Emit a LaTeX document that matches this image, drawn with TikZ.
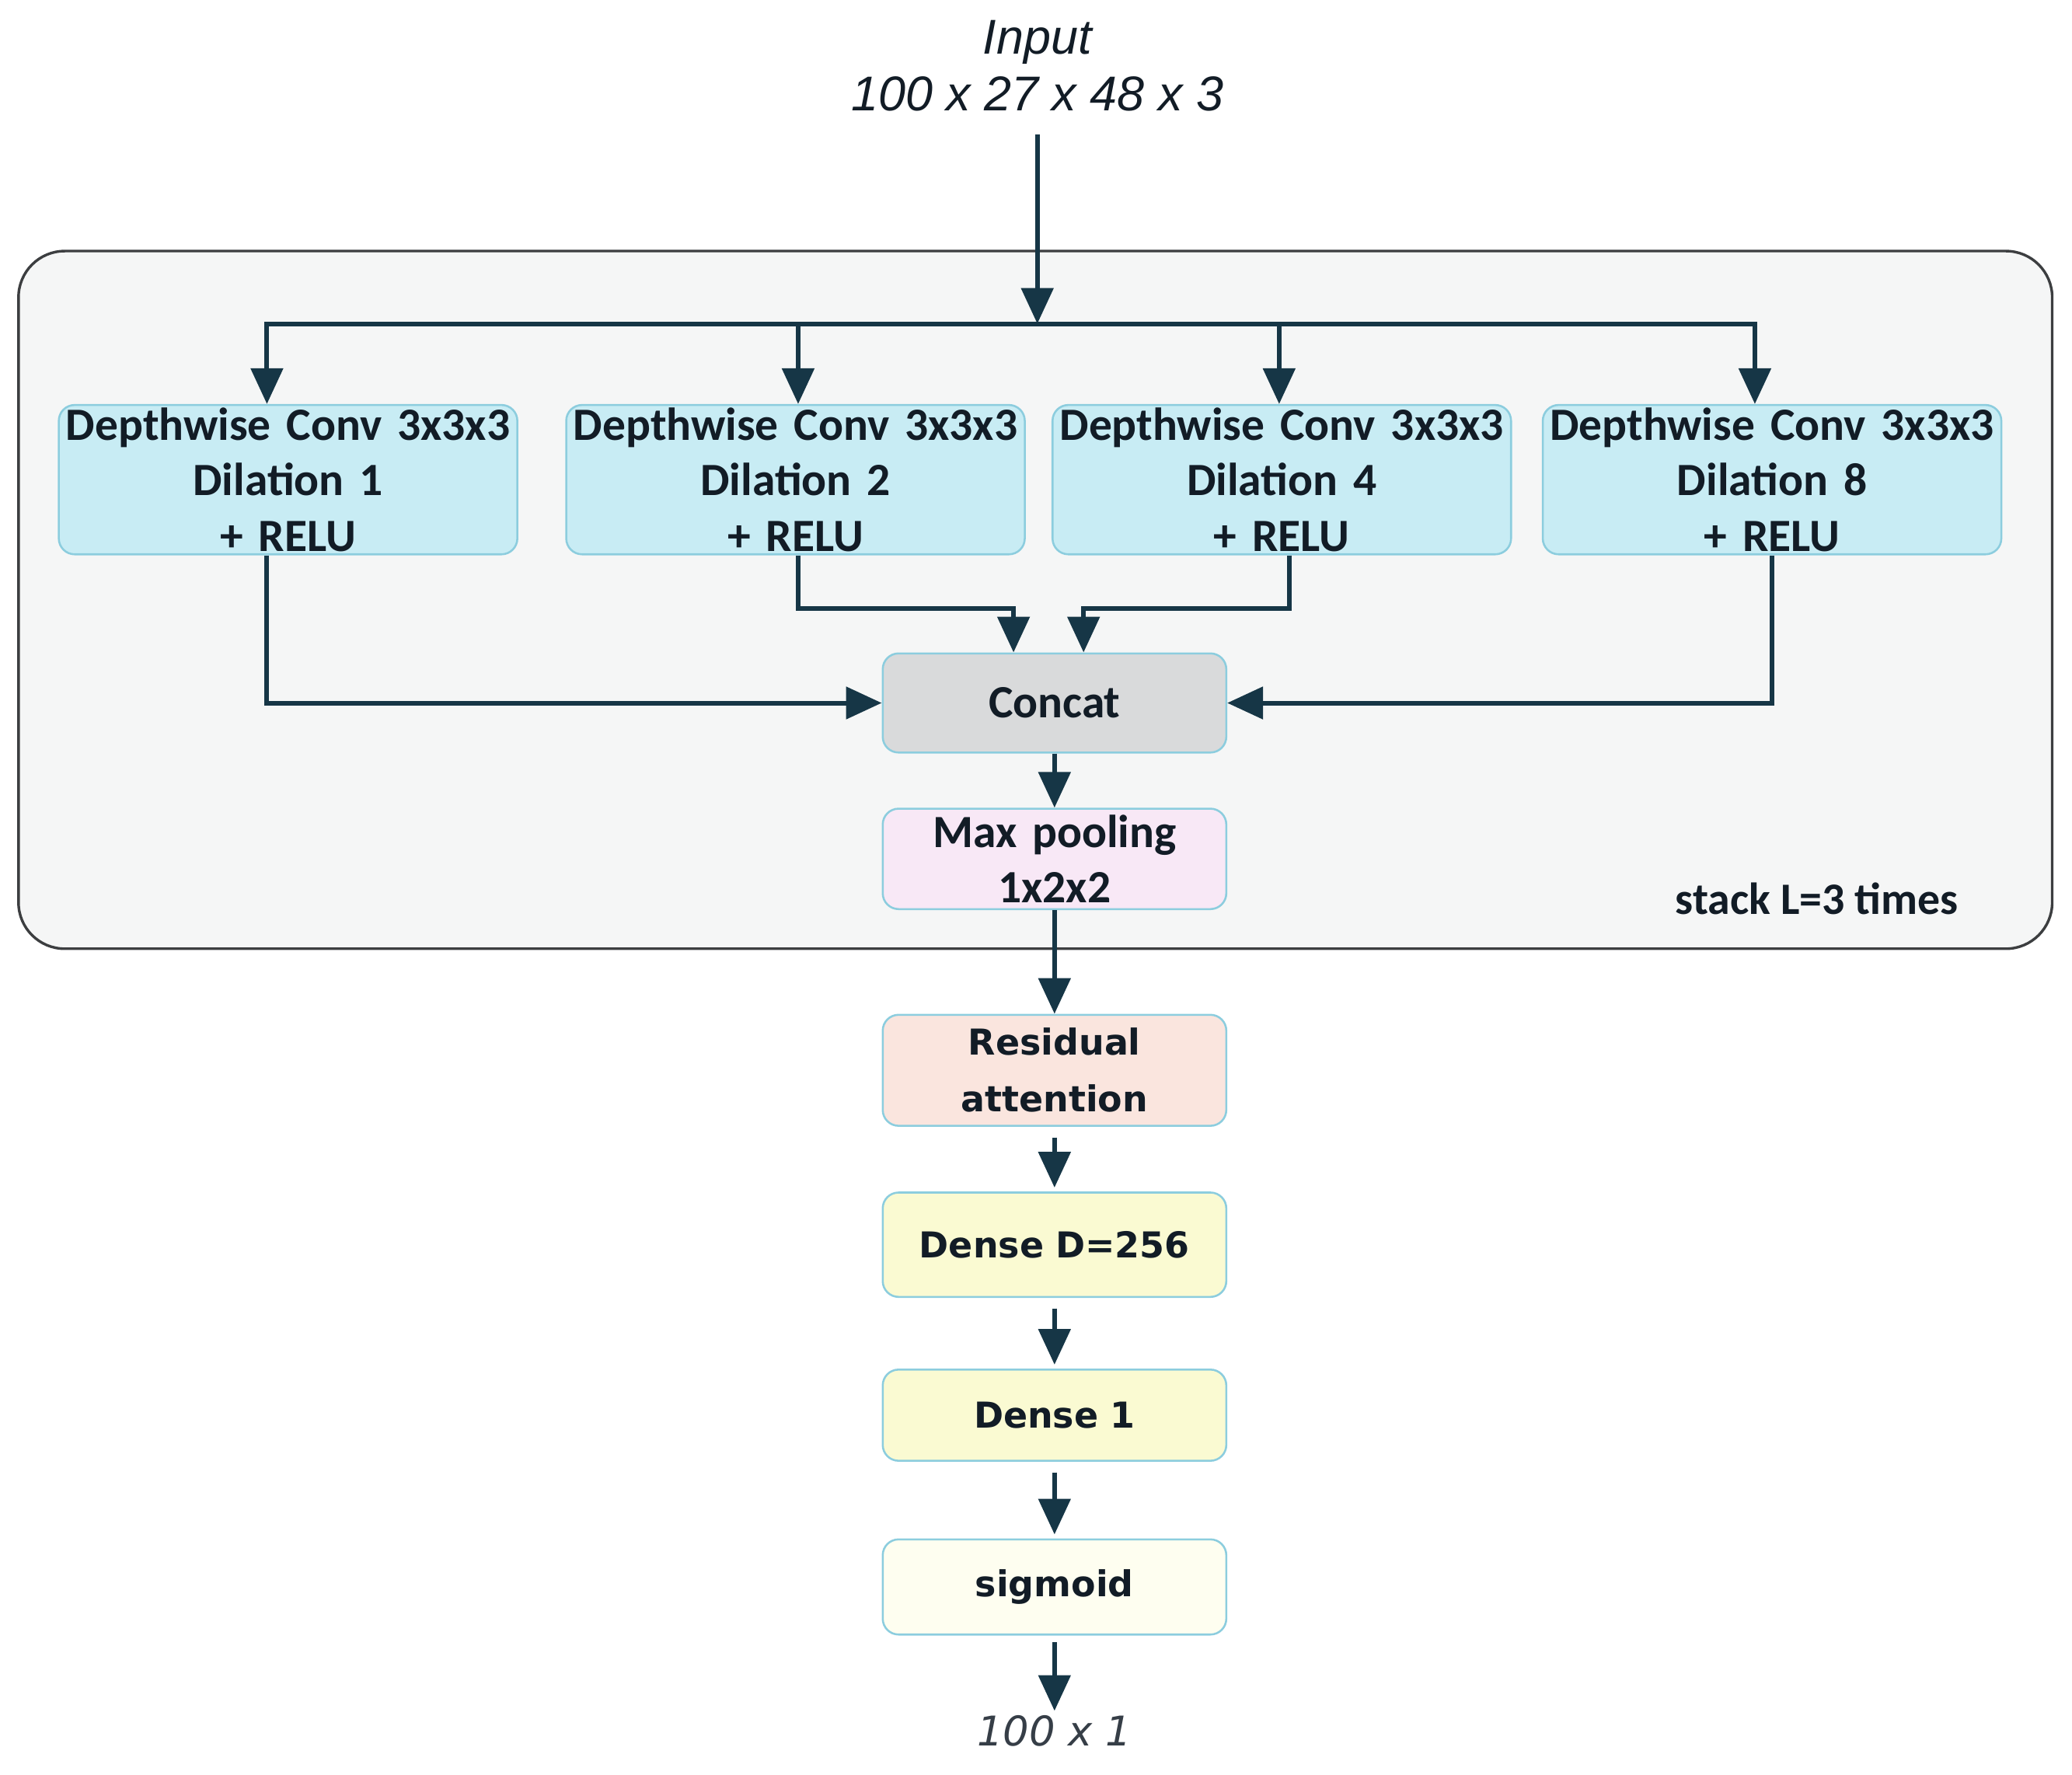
\documentclass[tikz,border=0pt]{standalone}
\usepackage{fontspec}
\setmainfont{Carlito}
\newfontfamily\verdfont{DejaVu Sans}
\newfontfamily\arialfont{Liberation Sans}
\usetikzlibrary{arrows.meta}
\definecolor{arrowblue}{RGB}{22,54,70}
\definecolor{inkdark}{RGB}{18,28,38}
\definecolor{boxedge}{RGB}{140,205,222}
\definecolor{convfill}{RGB}{200,236,244}
\definecolor{concatfill}{RGB}{217,218,219}
\definecolor{poolfill}{RGB}{248,232,246}
\definecolor{attnfill}{RGB}{250,229,222}
\definecolor{densefill}{RGB}{250,250,210}
\definecolor{sigfill}{RGB}{254,254,240}
\definecolor{framefill}{RGB}{245,246,246}
\definecolor{frameedge}{RGB}{60,62,64}
\tikzset{
  arr/.style={line width=3.5pt,draw=arrowblue,-{Triangle[length=27pt,width=24pt]}},
  layer/.style={draw=boxedge,line width=1.5pt,rounded corners=12pt,inner sep=0pt,
    align=center,text=inkdark,font=\bfseries\fontsize{35}{42}\selectfont},
  convbox/.style={layer,fill=convfill,minimum width=347pt,text width=347pt,minimum height=113pt},
  midbox/.style={layer,fill=#1,minimum width=260pt,text width=260pt},
  lowbox/.style={midbox=#1,font=\verdfont\bfseries\fontsize{27}{43}\selectfont}
}
\begin{document}
\begin{tikzpicture}[x=1pt,y=-1pt]
\useasboundingbox (0,0) rectangle (1568,1343);
% stacked block
\draw[draw=frameedge,fill=framefill,line width=2pt,rounded corners=35pt] (14,190) rectangle (1553,718);
\node[text=inkdark,font=\bfseries\fontsize{34}{40}\selectfont] (stacknote) at (1375,680) {stack L=3 times};
\node[align=center,text=inkdark,font=\arialfont\itshape\fontsize{37}{43}\selectfont] (input) at (785,50) {Input\\100 x 27 x 48 x 3};
\coordinate (split) at (785,245);
\draw[arr,shorten <=14pt] (input) -- (split);
% four dilated convolutions
\foreach \i/\x/\d in {1/218/1,2/602/2,3/970/4,4/1341/8}
	\node[convbox] (conv\i) at (\x,363) {Depthwise Conv 3x3x3\\Dilation \d\\+ RELU};
\draw[arr] (split) -| ([xshift=-16pt]conv1.north);
\draw[arr] (split) -| ([xshift=-13pt]conv4.north);
\draw[arr] ([xshift=2pt]conv2.north |- split) -- ([xshift=2pt]conv2.north);
\draw[arr] ([xshift=-2pt]conv3.north |- split) -- ([xshift=-2pt]conv3.north);
% merge
\node[midbox=concatfill,minimum height=75pt] (concat) at (798,532) {Concat};
\node[midbox=poolfill,minimum height=76pt] (pool) at (798,650) {Max pooling\\1x2x2};
\draw[arr] ([xshift=-16pt]conv1.south) |- (concat.west);
\draw[arr] ([xshift=2pt]conv2.south) -- ++(0,40) -| ([xshift=-31pt]concat.north);
\draw[arr] ([xshift=6pt]conv3.south) -- ++(0,40) -| ([xshift=22pt]concat.north);
\draw[arr] (conv4.south) |- (concat.east);
\draw[arr] (concat) -- (pool);
% head
\node[lowbox=attnfill,minimum height=84pt] (attn) at (798,810) {Residual\\attention};
\node[lowbox=densefill,minimum height=79pt] (dense) at (798,942) {Dense D=256};
\node[lowbox=densefill,minimum height=69pt] (dense1) at (798,1071) {Dense 1};
\node[lowbox=sigfill,minimum height=72pt] (sig) at (798,1201) {sigmoid};
\node[text=inkdark!85,font=\verdfont\itshape\fontsize{31}{36}\selectfont] (output) at (798,1310) {100 x 1};
\draw[arr] (pool) -- (attn);
\foreach \a/\b in {attn/dense,dense/dense1,dense1/sig}
	\draw[arr,shorten <=8pt,shorten >=3pt] (\a) -- (\b);
\draw[arr,shorten <=5pt] (sig) -- (output);
\end{tikzpicture}
\end{document}
